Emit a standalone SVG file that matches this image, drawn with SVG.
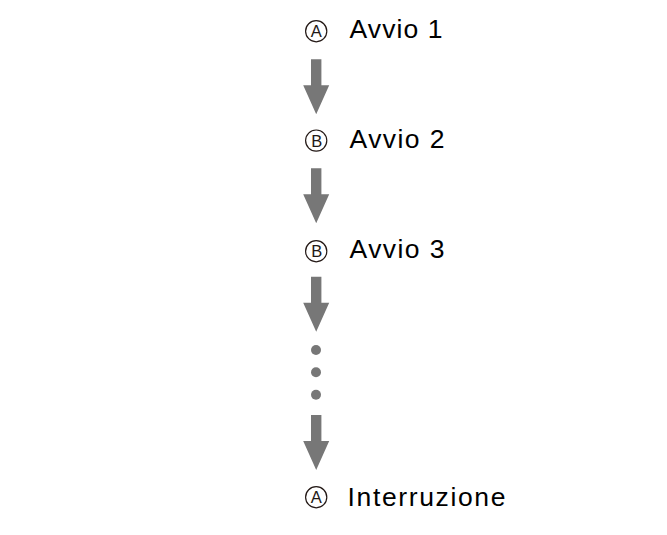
<svg xmlns="http://www.w3.org/2000/svg" width="667" height="535" viewBox="0 0 667 535">
<style>
.lbl{font-family:"Liberation Sans",Arial,sans-serif;font-size:26.5px;fill:#000}
.circ{fill:none;stroke:#231815;stroke-width:1.2}
.let{font-family:"Liberation Sans",Arial,sans-serif;font-size:16.5px;fill:#231815;text-anchor:middle}
.arr{fill:#777777}
</style>
<defs>
<path id="arrow" d="M-5.2 0 H5.2 V26 H13 L0 55 L-13 26 H-5.2 Z"/>
</defs>
<rect width="667" height="535" fill="#fff"/>
<g id="node-avvio1">
<circle class="circ" cx="316.2" cy="31.2" r="10.6"/>
<text class="let" x="316.2" y="37.1" aria-label="Ⓐ">A</text>
<text class="lbl" x="349.5" y="38" textLength="93" lengthAdjust="spacing">Avvio 1</text>
</g>
<g id="node-avvio2">
<circle class="circ" cx="316.2" cy="140.6" r="10.6"/>
<text class="let" x="316.7" y="146.5" aria-label="Ⓑ">B</text>
<text class="lbl" x="349.5" y="147.6" textLength="95" lengthAdjust="spacing">Avvio 2</text>
</g>
<g id="node-avvio3">
<circle class="circ" cx="316.2" cy="251.2" r="10.6"/>
<text class="let" x="316.7" y="257.1" aria-label="Ⓑ">B</text>
<text class="lbl" x="349.5" y="258.2" textLength="95" lengthAdjust="spacing">Avvio 3</text>
</g>
<g id="node-interruzione">
<circle class="circ" cx="316.2" cy="497.2" r="10.6"/>
<text class="let" x="316.2" y="503.1" aria-label="Ⓐ">A</text>
<text class="lbl" x="347.5" y="506" textLength="158" lengthAdjust="spacing">Interruzione</text>
</g>
<g id="connectors" class="arr">
<use href="#arrow" transform="translate(316.2 59.3)"/>
<use href="#arrow" transform="translate(316.2 168.3)"/>
<use href="#arrow" transform="translate(316.2 276.7)"/>
<circle cx="316" cy="350" r="5"/>
<circle cx="316" cy="372.3" r="5"/>
<circle cx="316" cy="394.7" r="5"/>
<use href="#arrow" transform="translate(316.2 415)"/>
</g>
</svg>
